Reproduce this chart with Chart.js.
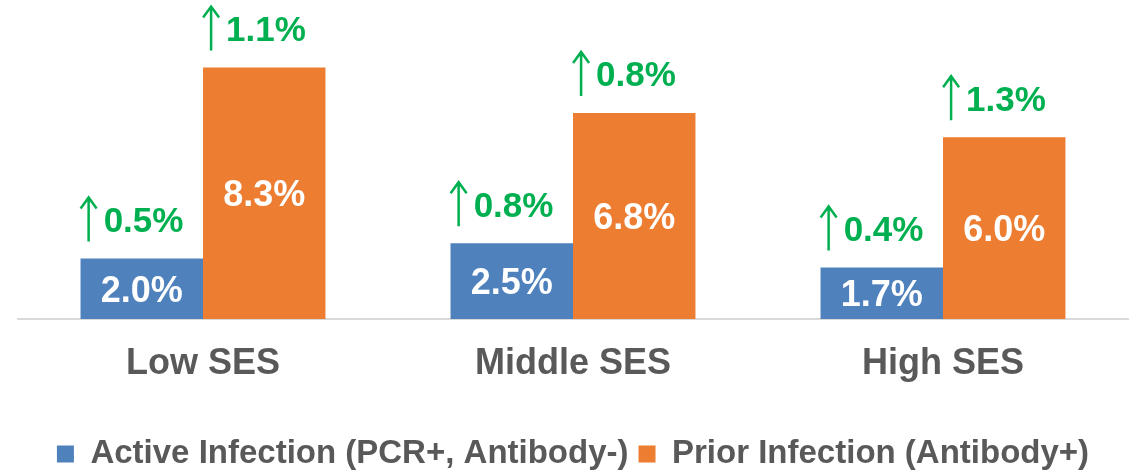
<!DOCTYPE html>
<html lang="en">
    <head>
        <meta charset="UTF-8" />
        <title>Infection by SES</title>
        <script src="https://cdn.jsdelivr.net/npm/chart.js@4.4.1/dist/chart.umd.min.js"></script>
        <style>
            body { margin: 0; background: #fff; }
        </style>
    </head>
    <body>
        <canvas id="chart" width="1138" height="474"></canvas>
        <script>
            const categories = ['Low SES', 'Middle SES', 'High SES'];
            const active = [2.0, 2.5, 1.7];
            const prior = [8.3, 6.8, 6.0];
            const activeChange = [0.5, 0.8, 0.4];
            const priorChange = [1.1, 0.8, 1.3];

            const FONT = '"Liberation Sans", Arial, sans-serif';
            const changes = [activeChange, priorChange];

            const labelPlugin = {
                id: 'labels',
                afterDatasetsDraw(chart) {
                    const ctx = chart.ctx;
                    ctx.save();
                    ctx.textBaseline = 'alphabetic';
                    chart.data.datasets.forEach((ds, di) => {
                        const meta = chart.getDatasetMeta(di);
                        meta.data.forEach((bar, i) => {
                            // value inside the bar
                            ctx.font = 'bold 36px ' + FONT;
                            ctx.fillStyle = '#ffffff';
                            ctx.textAlign = 'center';
                            const mid = (bar.y + bar.base) / 2;
                            ctx.fillText(ds.data[i].toFixed(1) + '%', bar.x, mid + 13);

                            // green arrow + change above the bar
                            ctx.font = 'bold 35px ' + FONT;
                            const txt = changes[di][i].toFixed(1) + '%';
                            const w = ctx.measureText(txt).width;
                            const gx = bar.x - 10 - (23.5 + w) / 2 + 8.5;
                            const cy = bar.y - 39;
                            ctx.strokeStyle = '#00b050';
                            ctx.lineWidth = 2.5;
                            ctx.beginPath();
                            ctx.moveTo(gx, cy + 22);
                            ctx.lineTo(gx, cy - 22);
                            ctx.moveTo(gx - 8, cy - 11);
                            ctx.lineTo(gx, cy - 22);
                            ctx.lineTo(gx + 8, cy - 11);
                            ctx.stroke();
                            ctx.fillStyle = '#00b050';
                            ctx.textAlign = 'left';
                            ctx.fillText(txt, gx + 15, cy + 12.5);
                        });
                    });
                    ctx.restore();
                }
            };

            const ctx = document.getElementById('chart').getContext('2d');
            const chart = new Chart(ctx, {
                type: 'bar',
                data: {
                    labels: categories,
                    datasets: [
                    {
                        label: 'Active Infection (PCR+, Antibody-)',
                        data: active,
                        backgroundColor: '#4f81bd',
                        borderWidth: 0
                    },
                    {
                        label: 'Prior Infection (Antibody+)',
                        data: prior,
                        backgroundColor: '#ed7d31',
                        borderWidth: 0
                    }
                    ]
                },
                options: {
                    responsive: false,
                    animation: false,
                    categoryPercentage: 0.662,
                    barPercentage: 1,
                    layout: { padding: { left: 18, right: 10, top: 16, bottom: -6.5 } },
                    plugins: {
                        tooltip: { enabled: false },
                        legend: {
                            position: 'bottom',
                            labels: {
                                color: '#595959',
                                font: { family: FONT, size: 33, weight: 'bold' },
                                boxWidth: 17,
                                boxHeight: 17,
                                padding: 10
                            }
                        }
                    },
                    scales: {
                        x: {
                            grid: { display: false, drawTicks: false },
                            border: { color: '#d9d9d9', width: 2 },
                            ticks: {
                                color: '#595959',
                                font: { family: FONT, size: 36, weight: 'bold' },
                                padding: 23
                            },
                            afterFit(scale) { scale.height = 108.5; }
                        },
                        y: {
                            display: false,
                            min: 0,
                            max: 10
                        }
                    }
                },
                plugins: [labelPlugin]
            });
        </script>
    </body>
</html>
